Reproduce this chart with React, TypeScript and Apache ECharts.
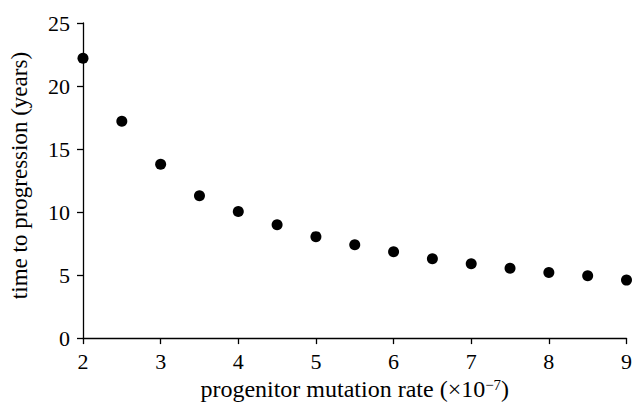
import React, { useEffect, useRef } from "react";
import * as echarts from "echarts";

const mutationRates = [2, 2.5, 3, 3.5, 4, 4.5, 5, 5.5, 6, 6.5, 7, 7.5, 8, 8.5, 9];
const progressionYears = [22.2, 17.2, 13.8, 11.3, 10.05, 9.0, 8.05, 7.4, 6.85, 6.3, 5.9, 5.55, 5.2, 4.95, 4.6];
const xTicks = [2, 3, 4, 5, 6, 7, 8, 9];
const yTicks = [0, 5, 10, 15, 20, 25];
const xTitle = "progenitor mutation rate (×10{sup|−7})";
const yTitle = "time to progression (years)";

const FONT = '"Liberation Serif", "DejaVu Serif", serif';

export default function App() {
  const ref = useRef<HTMLDivElement>(null);
  useEffect(() => {
    if (!ref.current) return;
    const chart = echarts.init(ref.current, undefined, { renderer: "svg" });
    const axisCommon = {
      axisLine: { show: true, lineStyle: { color: "#000", width: 1.3 } },
      axisTick: { show: true, inside: false, length: 6, lineStyle: { color: "#000", width: 1.3 } },
      splitLine: { show: false },
    };
    chart.setOption({
      animation: false,
      backgroundColor: "#fff",
      grid: { left: 83, right: 7, top: 23, bottom: 66, containLabel: false },
      xAxis: {
        type: "value",
        min: xTicks[0],
        max: xTicks[xTicks.length - 1],
        interval: 1,
        ...axisCommon,
        axisLabel: { color: "#000", fontFamily: FONT, fontSize: 22, margin: 12 },
        name: xTitle,
        nameLocation: "middle",
        nameGap: 36,
        nameTextStyle: {
          color: "#000",
          fontFamily: FONT,
          fontSize: 24,
          rich: {
            sup: { fontFamily: FONT, fontSize: 15, verticalAlign: "top", color: "#000" },
          },
        },
      },
      yAxis: {
        type: "value",
        min: yTicks[0],
        max: yTicks[yTicks.length - 1],
        interval: 5,
        ...axisCommon,
        axisLabel: { color: "#000", fontFamily: FONT, fontSize: 22, margin: 13 },
        name: yTitle,
        nameLocation: "middle",
        nameGap: 52,
        nameTextStyle: { color: "#000", fontFamily: FONT, fontSize: 23, padding: [0, 0, 0, 10] },
      },
      series: [
        {
          type: "scatter",
          data: mutationRates.map((x, i) => [x, progressionYears[i]]),
          symbol: "circle",
          symbolSize: 11,
          itemStyle: { color: "#000", opacity: 1 },
          clip: false,
        },
      ],
    });
    return () => chart.dispose();
  }, []);
  return <div ref={ref} style={{ width: 635, height: 406, position: "absolute", left: 0, top: 0 }} />;
}
